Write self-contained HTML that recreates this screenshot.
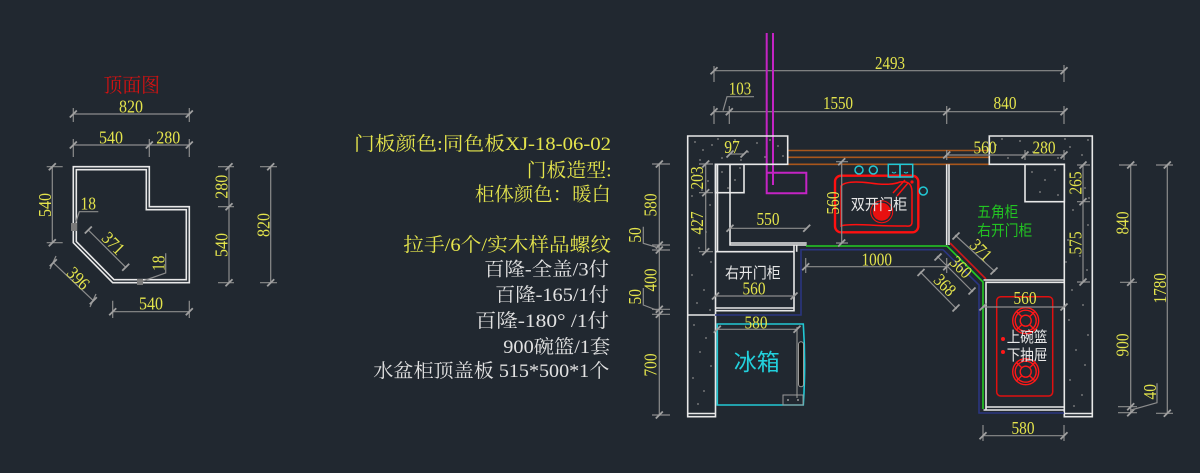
<!DOCTYPE html>
<html><head><meta charset="utf-8"><style>
html,body{margin:0;padding:0;background:#212830;}
svg{display:block}
.d{stroke:#8c8c8c;stroke-width:1.2;fill:none}
.w{stroke:#e8e8e8;stroke-width:1.6;fill:none}
.n{font-family:"Liberation Serif",serif;font-size:18px;fill:#e4e44c}
.cy{font-family:"Liberation Serif","Noto Serif CJK SC",serif;font-size:19px;fill:#e4e44c}
.cw{font-family:"Liberation Serif","Noto Serif CJK SC",serif;font-size:19px;fill:#e2e2e2}
.sw{font-family:"Liberation Sans","Noto Sans CJK SC",sans-serif;font-size:15px;fill:#e8e8e8}
.sg{font-family:"Liberation Sans","Noto Sans CJK SC",sans-serif;font-size:15px;fill:#22c422}
.sp{fill:#8a8a8a}
</style></head><body>
<svg width="1200" height="473" viewBox="0 0 1200 473" xmlns="http://www.w3.org/2000/svg">
<defs><path id="t" d="M-3.5,3.5L3.5,-3.5" stroke="#a0a0a0" stroke-width="1.8"/></defs>
<rect width="1200" height="473" fill="#212830"/>

<!-- ============ LEFT TOP VIEW ============ -->
<text x="103.5" y="92" font-family="'Liberation Serif','Noto Serif CJK SC',serif" font-size="20" fill="#d01212" textLength="56.5" lengthAdjust="spacingAndGlyphs">顶面图</text>

<path class="d" d="M73.3,114H189.3M73.3,108V122M189.3,108V122"/>
<use href="#t" x="73.3" y="114"/><use href="#t" x="189.3" y="114"/>
<text class="n" x="131" y="112.7" text-anchor="middle" textLength="24" lengthAdjust="spacingAndGlyphs">820</text>

<path class="d" d="M73.3,145H189.3M73.3,139V157M149.3,139V157M189.3,139V157"/>
<use href="#t" x="73.3" y="145"/><use href="#t" x="149.3" y="145"/><use href="#t" x="189.3" y="145"/>
<text class="n" x="111" y="143.3" text-anchor="middle" textLength="24" lengthAdjust="spacingAndGlyphs">540</text>
<text class="n" x="168.3" y="143.3" text-anchor="middle" textLength="24" lengthAdjust="spacingAndGlyphs">280</text>

<polygon class="w" points="73.3,166.7 149.3,166.7 149.3,206.7 189.3,206.7 189.3,282.7 112.7,282.7 73.3,242.7"/>
<polygon class="w" stroke-width="1.2" points="76.3,169.7 146.3,169.7 146.3,209.7 186.3,209.7 186.3,279.7 114,279.7 76.3,241.5"/>

<path class="d" d="M52.3,166.7V242.7M46.7,166.7H62.7M46.7,242.7H62.7"/>
<use href="#t" x="52.3" y="166.7"/><use href="#t" x="52.3" y="242.7"/>
<text class="n" text-anchor="middle" transform="translate(45,205) rotate(-90)" y="6" textLength="24" lengthAdjust="spacingAndGlyphs">540</text>

<path class="d" d="M229,166.7V282.7M218,166.7H234M218,206.7H234M218,282.7H234"/>
<use href="#t" x="229" y="166.7"/><use href="#t" x="229" y="206.7"/><use href="#t" x="229" y="282.7"/>
<text class="n" text-anchor="middle" transform="translate(221.7,186.7) rotate(-90)" y="6" textLength="24" lengthAdjust="spacingAndGlyphs">280</text>
<text class="n" text-anchor="middle" transform="translate(221.7,245) rotate(-90)" y="6" textLength="24" lengthAdjust="spacingAndGlyphs">540</text>

<path class="d" d="M270.7,166.7V282.7M260,166.7H277M260,282.7H277"/>
<use href="#t" x="270.7" y="166.7"/><use href="#t" x="270.7" y="282.7"/>
<text class="n" text-anchor="middle" transform="translate(263.3,225) rotate(-90)" y="6" textLength="24" lengthAdjust="spacingAndGlyphs">820</text>

<path class="d" d="M74.3,226.7L79.3,211.7H98.3"/>
<rect x="71" y="223" width="6" height="8" fill="#7a7a7a"/>
<text class="n" x="88.3" y="209.5" text-anchor="middle" textLength="15.5" lengthAdjust="spacingAndGlyphs">18</text>

<path class="d" d="M88.3,230L125.7,267.3"/>
<use href="#t" x="88.3" y="230"/><use href="#t" x="125.7" y="267.3"/>
<text class="n" text-anchor="middle" transform="translate(113.3,243.3) rotate(45)" y="6" textLength="24" lengthAdjust="spacingAndGlyphs">371</text>

<path class="d" d="M140,282L165.7,273V253.3"/>
<rect x="137" y="279" width="6" height="6" fill="#7a7a7a"/>
<text class="n" text-anchor="middle" transform="translate(158.3,263.3) rotate(-90)" y="6" textLength="15.5" lengthAdjust="spacingAndGlyphs">18</text>

<path class="d" d="M53.3,262.7L93.3,300.7M56,256L50,269M96,294L90,307"/>
<use href="#t" x="53.3" y="262.7"/><use href="#t" x="93.3" y="300.7"/>
<text class="n" text-anchor="middle" transform="translate(78.3,278.3) rotate(45)" y="6" textLength="24" lengthAdjust="spacingAndGlyphs">396</text>

<path class="d" d="M112.7,311.7H189.3M112.7,300.7V318M189.3,300.7V318"/>
<use href="#t" x="112.7" y="311.7"/><use href="#t" x="189.3" y="311.7"/>
<text class="n" x="151" y="309.3" text-anchor="middle" textLength="24" lengthAdjust="spacingAndGlyphs">540</text>

<!-- ============ MIDDLE TEXT ============ -->
<text class="cy" x="354" y="150" textLength="257" lengthAdjust="spacingAndGlyphs">门板颜色:同色板XJ-18-06-02</text>
<text class="cy" x="526.7" y="176.3" textLength="85" lengthAdjust="spacingAndGlyphs">门板造型:</text>
<text class="cy" x="475" y="200.3" textLength="136" lengthAdjust="spacingAndGlyphs">柜体颜色：暖白</text>
<text class="cy" x="403.3" y="251" textLength="207.7" lengthAdjust="spacingAndGlyphs">拉手/6个/实木样品螺纹</text>
<text class="cw" x="484" y="275.3" textLength="125" lengthAdjust="spacingAndGlyphs">百隆-全盖/3付</text>
<text class="cw" x="495" y="301" textLength="114" lengthAdjust="spacingAndGlyphs">百隆-165/1付</text>
<text class="cw" x="475" y="327" textLength="134" lengthAdjust="spacingAndGlyphs">百隆-180° /1付</text>
<text class="cw" x="503.3" y="353" textLength="107" lengthAdjust="spacingAndGlyphs">900碗篮/1套</text>
<text class="cw" x="373.3" y="377" textLength="236" lengthAdjust="spacingAndGlyphs">水盆柜顶盖板 515*500*1个</text>

<!-- ============ RIGHT PLAN ============ -->
<path class="d" d="M714,70.7H1064M714,66V82M1064,65V82"/>
<use href="#t" x="714" y="70.7"/><use href="#t" x="1064" y="70.7"/>
<text class="n" x="890" y="69" text-anchor="middle" textLength="30" lengthAdjust="spacingAndGlyphs">2493</text>

<path class="d" d="M714,111.7H1064M714,106V124M729.3,106V124M946.7,106V124M1064,106V124"/>
<use href="#t" x="714" y="111.7"/><use href="#t" x="729.3" y="111.7"/><use href="#t" x="946.7" y="111.7"/><use href="#t" x="1064" y="111.7"/>
<path class="d" d="M723,110.7L727,96.7H754"/>
<text class="n" x="740" y="94.3" text-anchor="middle" textLength="22.5" lengthAdjust="spacingAndGlyphs">103</text>
<text class="n" x="838" y="109" text-anchor="middle" textLength="30" lengthAdjust="spacingAndGlyphs">1550</text>
<text class="n" x="1005" y="109" text-anchor="middle" textLength="23" lengthAdjust="spacingAndGlyphs">840</text>

<path d="M766.7,33V193.3H806.3V172.7H766.7M773,33V185" stroke="#c424c4" stroke-width="2" fill="none"/>

<path d="M787.7,150.5H989.3M787.7,157.3H989.3M787.7,164.3H989.3" stroke="#a8561c" stroke-width="1.6" fill="none"/>

<path class="w" d="M687.7,136H787.7V164.3H715.5V416.7H687.7Z"/>
<path class="w" d="M687.7,315H715.5M687.7,413.5H715.5"/>
<path class="w" d="M989.3,136H1092.3V416.7H1064.3V164.3H989.3Z"/>
<path class="w" d="M1064.3,413.5H1092.3"/>
<rect class="w" x="1025" y="164.3" width="39.3" height="37.4"/>
<rect class="w" x="715.5" y="164.3" width="28.5" height="28.4"/>

<g class="sp">
<circle cx="695" cy="142" r="0.9"/><circle cx="703" cy="150" r="0.9"/><circle cx="712" cy="145" r="0.9"/><circle cx="722" cy="158" r="0.9"/><circle cx="735" cy="140" r="0.9"/><circle cx="748" cy="152" r="0.9"/><circle cx="757" cy="143" r="0.9"/><circle cx="765" cy="157" r="0.9"/><circle cx="778" cy="146" r="0.9"/><circle cx="783" cy="156" r="0.9"/><circle cx="700" cy="160" r="0.9"/><circle cx="727" cy="148" r="0.9"/><circle cx="741" cy="160" r="0.9"/><circle cx="770" cy="140" r="0.9"/><circle cx="718" cy="139" r="0.9"/>
<circle cx="694" cy="175" r="0.9"/><circle cx="702" cy="190" r="0.9"/><circle cx="710" cy="205" r="0.9"/><circle cx="693" cy="220" r="0.9"/><circle cx="706" cy="232" r="0.9"/><circle cx="699" cy="248" r="0.9"/><circle cx="711" cy="262" r="0.9"/><circle cx="692" cy="275" r="0.9"/><circle cx="704" cy="290" r="0.9"/><circle cx="697" cy="303" r="0.9"/><circle cx="710" cy="310" r="0.9"/><circle cx="694" cy="325" r="0.9"/><circle cx="706" cy="338" r="0.9"/><circle cx="700" cy="352" r="0.9"/><circle cx="711" cy="366" r="0.9"/><circle cx="693" cy="378" r="0.9"/><circle cx="704" cy="391" r="0.9"/><circle cx="698" cy="404" r="0.9"/><circle cx="692" cy="196" r="0.9"/><circle cx="708" cy="181" r="0.9"/>
<circle cx="722" cy="172" r="0.9"/><circle cx="735" cy="180" r="0.9"/><circle cx="728" cy="188" r="0.9"/><circle cx="740" cy="168" r="0.9"/>
<circle cx="996" cy="145" r="0.9"/><circle cx="1008" cy="158" r="0.9"/><circle cx="1020" cy="141" r="0.9"/><circle cx="1033" cy="152" r="0.9"/><circle cx="1047" cy="144" r="0.9"/><circle cx="1058" cy="158" r="0.9"/><circle cx="1070" cy="147" r="0.9"/><circle cx="1082" cy="155" r="0.9"/><circle cx="1088" cy="140" r="0.9"/><circle cx="1002" cy="139" r="0.9"/><circle cx="1065" cy="139" r="0.9"/>
<circle cx="1070" cy="175" r="0.9"/><circle cx="1085" cy="188" r="0.9"/><circle cx="1073" cy="210" r="0.9"/><circle cx="1088" cy="225" r="0.9"/><circle cx="1068" cy="240" r="0.9"/><circle cx="1080" cy="256" r="0.9"/><circle cx="1087" cy="270" r="0.9"/><circle cx="1072" cy="290" r="0.9"/><circle cx="1083" cy="305" r="0.9"/><circle cx="1069" cy="320" r="0.9"/><circle cx="1088" cy="335" r="0.9"/><circle cx="1076" cy="350" r="0.9"/><circle cx="1085" cy="365" r="0.9"/><circle cx="1070" cy="380" r="0.9"/><circle cx="1082" cy="395" r="0.9"/><circle cx="1074" cy="406" r="0.9"/><circle cx="1089" cy="198" r="0.9"/><circle cx="1066" cy="262" r="0.9"/>
<circle cx="1032" cy="172" r="0.9"/><circle cx="1045" cy="180" r="0.9"/><circle cx="1055" cy="170" r="0.9"/><circle cx="1040" cy="192" r="0.9"/><circle cx="1058" cy="195" r="0.9"/>
</g>

<path class="w" d="M717.5,164.3V251.7M730,164.3V245H806.7M730,243H806.7"/>
<path class="w" d="M715.5,251.7H794V310.7H715.5M715.5,308H794M794,245V251.7M796.7,245V251.7"/>
<path class="w" d="M946.7,164.3V245M949,164.3V245"/>

<path d="M806,246H947L983,282V409" stroke="#22cc22" stroke-width="1.6" fill="none"/>
<path d="M950,243L986,279" stroke="#d01818" stroke-width="1.6" fill="none"/>
<path d="M715,315H801V249.7H943L979,285V413H1064" stroke="#2a3580" stroke-width="1.6" fill="none"/>

<path class="d" d="M730,154H744"/>
<use href="#t" x="730" y="154"/><use href="#t" x="744" y="154"/>
<text class="n" x="732" y="153" text-anchor="middle" textLength="15.5" lengthAdjust="spacingAndGlyphs">97</text>

<path class="d" d="M705.7,164V251.7M699,164H713M699,192.7H713M699,251.7H713"/>
<use href="#t" x="705.7" y="164"/><use href="#t" x="705.7" y="192.7"/><use href="#t" x="705.7" y="251.7"/>
<text class="n" text-anchor="middle" transform="translate(697,178) rotate(-90)" y="6" textLength="23" lengthAdjust="spacingAndGlyphs">203</text>
<text class="n" text-anchor="middle" transform="translate(697,223) rotate(-90)" y="6" textLength="23" lengthAdjust="spacingAndGlyphs">427</text>

<path class="d" d="M730,228.3H806.7"/>
<use href="#t" x="730" y="228.3"/><use href="#t" x="806.7" y="228.3"/>
<text class="n" x="768" y="225" text-anchor="middle" textLength="23" lengthAdjust="spacingAndGlyphs">550</text>

<path class="d" d="M659.3,164V415M652,164H670M652,245H670M652,250H670M652,309.3H670M652,314.3H670M652,415H670"/>
<use href="#t" x="659.3" y="164"/><use href="#t" x="659.3" y="245"/><use href="#t" x="659.3" y="250"/><use href="#t" x="659.3" y="309.3"/><use href="#t" x="659.3" y="314.3"/><use href="#t" x="659.3" y="415"/>
<text class="n" text-anchor="middle" transform="translate(650.7,205) rotate(-90)" y="6" textLength="23" lengthAdjust="spacingAndGlyphs">580</text>
<text class="n" text-anchor="middle" transform="translate(650.7,280) rotate(-90)" y="6" textLength="23" lengthAdjust="spacingAndGlyphs">400</text>
<text class="n" text-anchor="middle" transform="translate(650.7,365) rotate(-90)" y="6" textLength="23" lengthAdjust="spacingAndGlyphs">700</text>
<path class="d" d="M643.3,226.7V243.3L659,248M643.3,288V305L659,311"/>
<text class="n" text-anchor="middle" transform="translate(635,235) rotate(-90)" y="6" textLength="15.5" lengthAdjust="spacingAndGlyphs">50</text>
<text class="n" text-anchor="middle" transform="translate(635,296.7) rotate(-90)" y="6" textLength="15.5" lengthAdjust="spacingAndGlyphs">50</text>

<text class="sw" x="725" y="278" textLength="55.7" lengthAdjust="spacingAndGlyphs">右开门柜</text>
<path class="d" d="M715.5,296H794"/>
<use href="#t" x="715.5" y="296"/><use href="#t" x="794" y="296"/>
<text class="n" x="754" y="294.3" text-anchor="middle" textLength="23" lengthAdjust="spacingAndGlyphs">560</text>

<path d="M717.3,324H803.3Q806,364 803.3,405H717.3Z" stroke="#22c8d4" stroke-width="1.6" fill="none"/>
<path d="M797,327V398" stroke="#8c8c8c" stroke-width="1.2"/>
<rect x="798.5" y="341.7" width="5" height="45" rx="2.5" fill="#111" stroke="#9a9a9a" stroke-width="1"/>
<rect x="783" y="395" width="20" height="10" fill="none" stroke="#9a9a9a" stroke-width="1"/>
<circle cx="788" cy="400" r="1" fill="#9a9a9a"/><circle cx="798" cy="400" r="1" fill="#9a9a9a"/>
<text x="756.7" y="370" text-anchor="middle" font-family="'Liberation Sans','Noto Sans CJK SC',sans-serif" font-size="23" fill="#22d0dc">冰箱</text>
<path class="d" d="M717.3,329.3H797"/>
<use href="#t" x="717.3" y="329.3"/><use href="#t" x="797" y="329.3"/>
<text class="n" x="756" y="328.7" text-anchor="middle" textLength="23" lengthAdjust="spacingAndGlyphs">580</text>

<rect x="835" y="175.7" width="83.3" height="56.6" rx="6" stroke="#ff1010" stroke-width="2.4" fill="none"/>
<path d="M841,186Q846,180 870,183Q890,186 900,182Q912,180 912,192V222Q912,227 906,226Q880,226 870,225Q846,224 841,226Z" stroke="#ff1010" stroke-width="1.5" fill="none"/>
<path d="M893,193L905,180M897,196L908,183" stroke="#ff1010" stroke-width="1.4"/>
<circle cx="912" cy="182" r="1.6" fill="#ff1010"/>
<circle cx="881.7" cy="211.7" r="9" fill="#e81010"/>
<circle cx="881.7" cy="211.7" r="11" stroke="#ff1010" stroke-width="1" fill="none"/>
<text class="sw" x="850.7" y="209.5" textLength="56.6" lengthAdjust="spacingAndGlyphs">双开门柜</text>
<g stroke="#22c8d4" stroke-width="1.5" fill="none">
<circle cx="859" cy="170" r="4"/><circle cx="873.3" cy="170" r="4"/>
<rect x="888.3" y="164.3" width="11.7" height="12.7"/><rect x="900" y="164.3" width="12.7" height="12.7"/>
<circle cx="923.3" cy="191" r="4"/>
</g>
<path d="M892,172Q894,174 896,172M904,172Q906,174 908,172" stroke="#22c8d4" stroke-width="1" fill="none"/>
<path class="d" d="M841.7,161.7V243M836,161.7H848M836,243H848"/>
<use href="#t" x="841.7" y="161.7"/><use href="#t" x="841.7" y="243"/>
<text class="n" text-anchor="middle" transform="translate(833,203) rotate(-90)" y="6" textLength="23" lengthAdjust="spacingAndGlyphs">560</text>

<path class="d" d="M805.7,266.7H946.7M805.7,258V273M946.7,258V273"/>
<use href="#t" x="805.7" y="266.7"/><use href="#t" x="946.7" y="266.7"/>
<text class="n" x="876.7" y="265.5" text-anchor="middle" textLength="30.5" lengthAdjust="spacingAndGlyphs">1000</text>

<path class="d" d="M955,235L995,271.7"/>
<use href="#t" x="956" y="236"/><use href="#t" x="994" y="271"/>
<text class="n" text-anchor="middle" transform="translate(981,250) rotate(45)" y="6" textLength="23" lengthAdjust="spacingAndGlyphs">371</text>
<path class="d" d="M937,256L973,292"/>
<use href="#t" x="938" y="257"/><use href="#t" x="972" y="291"/>
<text class="n" text-anchor="middle" transform="translate(961,267) rotate(45)" y="6" textLength="23" lengthAdjust="spacingAndGlyphs">360</text>
<path class="d" d="M920,271.7L956.7,309"/>
<use href="#t" x="921" y="272.5"/><use href="#t" x="956" y="308"/>
<text class="n" text-anchor="middle" transform="translate(945,285) rotate(45)" y="6" textLength="23" lengthAdjust="spacingAndGlyphs">368</text>

<path class="d" d="M946.7,155H1064M946.7,150V160M1025,150V160M1064,150V160"/>
<use href="#t" x="946.7" y="155"/><use href="#t" x="1025" y="155"/><use href="#t" x="1064" y="155"/>
<text class="n" x="985" y="153.3" text-anchor="middle" textLength="23" lengthAdjust="spacingAndGlyphs">560</text>
<text class="n" x="1044" y="153.3" text-anchor="middle" textLength="23" lengthAdjust="spacingAndGlyphs">280</text>

<text class="sg" x="977.3" y="217" textLength="41" lengthAdjust="spacingAndGlyphs">五角柜</text>
<text class="sg" x="977.3" y="235.5" textLength="55" lengthAdjust="spacingAndGlyphs">右开门柜</text>

<path class="w" d="M986,410V282.3H1064M983.5,280H1064M986,407H1064M983.5,410H1064"/>
<rect x="996.7" y="296.7" width="56" height="99.3" rx="4" stroke="#e01010" stroke-width="1.5" fill="none"/>
<g stroke="#ff1818" stroke-width="1.4" fill="none">
<circle cx="1025.7" cy="320.7" r="13"/><circle cx="1025.7" cy="320.7" r="10.5"/><circle cx="1025.7" cy="320.7" r="5.5"/>
<path d="M1016,311L1021.8,316.8M1035.4,311L1029.6,316.8M1016,330.4L1021.8,324.6M1035.4,330.4L1029.6,324.6"/>
<circle cx="1025.7" cy="371.7" r="13"/><circle cx="1025.7" cy="371.7" r="10.5"/><circle cx="1025.7" cy="371.7" r="5.5"/>
<path d="M1016,362L1021.8,367.8M1035.4,362L1029.6,367.8M1016,381.4L1021.8,375.6M1035.4,381.4L1029.6,375.6"/>
</g>
<circle cx="1003" cy="339" r="2" fill="#ff1818"/><circle cx="1003" cy="352" r="2" fill="#ff1818"/>
<text class="sw" x="1006.7" y="342" textLength="40.7" lengthAdjust="spacingAndGlyphs">上碗篮</text>
<text class="sw" x="1006.7" y="360" textLength="40.7" lengthAdjust="spacingAndGlyphs">下抽屉</text>
<path class="d" d="M983,307H1064"/>
<use href="#t" x="983" y="307"/><use href="#t" x="1064" y="307"/>
<text class="n" x="1025" y="304" text-anchor="middle" textLength="23" lengthAdjust="spacingAndGlyphs">560</text>

<path class="d" d="M983,435.7H1064M983,425V441M1064,425V441"/>
<use href="#t" x="983" y="435.7"/><use href="#t" x="1064" y="435.7"/>
<text class="n" x="1023" y="434" text-anchor="middle" textLength="23" lengthAdjust="spacingAndGlyphs">580</text>

<path class="d" d="M1083,165V282M1077,165H1090M1077,201.7H1090M1077,282H1090"/>
<use href="#t" x="1083" y="165"/><use href="#t" x="1083" y="201.7"/><use href="#t" x="1083" y="282"/>
<text class="n" text-anchor="middle" transform="translate(1075.7,183) rotate(-90)" y="6" textLength="23" lengthAdjust="spacingAndGlyphs">265</text>
<text class="n" text-anchor="middle" transform="translate(1075.7,243) rotate(-90)" y="6" textLength="23" lengthAdjust="spacingAndGlyphs">575</text>

<path class="d" d="M1130.7,165V412.7M1119,165H1137M1120,282.3H1137M1118,406.7H1137M1118,412.7H1137"/>
<use href="#t" x="1130.7" y="165"/><use href="#t" x="1130.7" y="282.3"/><use href="#t" x="1130.7" y="406.7"/><use href="#t" x="1130.7" y="412.7"/>
<text class="n" text-anchor="middle" transform="translate(1122.7,223) rotate(-90)" y="6" textLength="23" lengthAdjust="spacingAndGlyphs">840</text>
<text class="n" text-anchor="middle" transform="translate(1122.7,345) rotate(-90)" y="6" textLength="23" lengthAdjust="spacingAndGlyphs">900</text>
<path class="d" d="M1131,410L1157,402.7V383.3"/>
<text class="n" text-anchor="middle" transform="translate(1150,391.7) rotate(-90)" y="6" textLength="15.5" lengthAdjust="spacingAndGlyphs">40</text>

<path class="d" d="M1167.3,165V413.3M1156,165H1173M1156,413.3H1173"/>
<use href="#t" x="1167.3" y="165"/><use href="#t" x="1167.3" y="413.3"/>
<text class="n" text-anchor="middle" transform="translate(1160,288.3) rotate(-90)" y="6" textLength="30.5" lengthAdjust="spacingAndGlyphs">1780</text>
</svg>
</body></html>
